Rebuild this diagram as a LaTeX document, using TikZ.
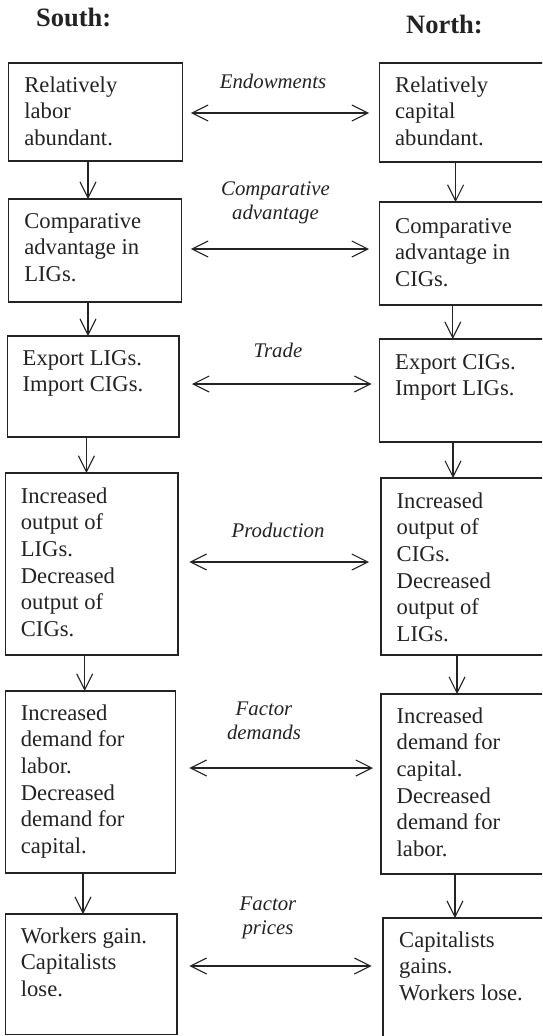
\documentclass[tikz,border=0pt]{standalone}
\usepackage{fontspec}
\setmainfont{Liberation Serif}
\usetikzlibrary{arrows.meta,fit}
\definecolor{ink}{RGB}{35,35,35}
\newcommand{\lft}[1]{\begin{tabular}[t]{@{}l@{}}#1\end{tabular}}
\newcommand{\ctr}[1]{\begin{tabular}[t]{@{}c@{}}#1\end{tabular}}
\tikzset{
  box/.style={draw=ink, line width=1.1pt, inner sep=0pt, outer sep=0pt},
  txt/.style={anchor=base west, inner sep=0pt, text=ink,
    font=\fontsize{22.6}{26.7}\selectfont},
  lab/.style={anchor=base, inner sep=0pt, text=ink,
    font=\fontsize{20.8}{24}\selectfont\itshape},
  ttl/.style={anchor=base west, inner sep=0pt, text=ink,
    font=\fontsize{26.5}{30}\selectfont\bfseries},
  barb/.tip={Straight Barb[length=16pt,width=16pt]},
  varr/.style={draw=ink, line width=1.1pt, -barb},
  harr/.style={draw=ink, line width=1.1pt, barb-barb}
}
\begin{document}
\begin{tikzpicture}[x=1pt,y=-1pt]
\clip (0,0) rectangle (542,1036);
\fill[white] (0,0) rectangle (542,1036);

\node[ttl] (south) at (36,27) {South:};
\node[ttl] (north) at (406,33) {North:};

% boxes
\node[box, fit={(8.6,63) (182.5,161)}] (s1) {};
\node[box, fit={(379.5,63) (548,162)}] (n1) {};
\node[box, fit={(8.6,199) (181.5,302)}] (s2) {};
\node[box, fit={(379.5,202) (548,305)}] (n2) {};
\node[box, fit={(7.6,336) (179,437)}] (s3) {};
\node[box, fit={(379.5,339) (548,442)}] (n3) {};
\node[box, fit={(5.2,473) (178,655)}] (s4) {};
\node[box, fit={(381,478) (548,655)}] (n4) {};
\node[box, fit={(5.2,691) (175.6,873)}] (s5) {};
\node[box, fit={(381,694) (548,874)}] (n5) {};
\node[box, fit={(5.2,914) (177,1034.5)}] (s6) {};
\node[box, fit={(383,918) (548,1045)}] (n6) {};

% box texts
\node[txt] (s1t) at (24.2,92) {\lft{Relatively\\labor\\abundant.}};
\node[txt] (n1t) at (395,92) {\lft{Relatively\\capital\\abundant.}};
\node[txt] (s2t) at (24.2,228) {\lft{Comparative\\advantage in\\LIGs.}};
\node[txt] (n2t) at (395,233) {\lft{Comparative\\advantage in\\CIGs.}};
\node[txt] (s3t) at (22.5,365) {\lft{Export LIGs.\\Import CIGs.}};
\node[txt] (n3t) at (395,369) {\lft{Export CIGs.\\Import LIGs.}};
\node[txt] (s4t) at (20.7,503) {\lft{Increased\\output of\\LIGs.\\Decreased\\output of\\CIGs.}};
\node[txt] (n4t) at (396.5,508) {\lft{Increased\\output of\\CIGs.\\Decreased\\output of\\LIGs.}};
\node[txt] (s5t) at (20.7,720) {\lft{Increased\\demand for\\labor.\\Decreased\\demand for\\capital.}};
\node[txt] (n5t) at (396.5,723) {\lft{Increased\\demand for\\capital.\\Decreased\\demand for\\labor.}};
\node[txt] (s6t) at (20.7,943) {\lft{Workers gain.\\Capitalists\\lose.}};
\node[txt] (n6t) at (399,947) {\lft{Capitalists\\gains.\\Workers lose.}};

% labels
\node[lab] (l1) at (273,88) {Endowments};
\node[lab] (l2) at (275.5,195) {\ctr{Comparative\\advantage}};
\node[lab] (l3) at (278,357) {Trade};
\node[lab] (l4) at (278,537) {Production};
\node[lab] (l5) at (264,715) {\ctr{Factor\\demands}};
\node[lab] (l6) at (268,910) {\ctr{Factor\\prices}};

% vertical arrows
\draw[varr] (s1.south -| 88,0) -- (s2.north -| 88,0);
\draw[varr] (n1.south -| 455.6,0) -- (n2.north -| 455.6,0);
\draw[varr] (s2.south -| 88,0) -- (s3.north -| 88,0);
\draw[varr] (n2.south -| 452.8,0) -- (n3.north -| 452.8,0);
\draw[varr] (s3.south -| 86.4,0) -- (s4.north -| 86.4,0);
\draw[varr] (n3.south -| 453,0) -- (n4.north -| 453,0);
\draw[varr] (s4.south -| 84.7,0) -- (s5.north -| 84.7,0);
\draw[varr] (n4.south -| 457,0) -- (n5.north -| 457,0);
\draw[varr] (s5.south -| 83,0) -- (s6.north -| 83,0);
\draw[varr] (n5.south -| 455,0) -- (n6.north -| 455,0);

% horizontal arrows
\draw[harr] ([xshift=8.3pt]s1.east |- 0,113) -- ([xshift=-10.3pt]n1.west |- 0,113);
\draw[harr] ([xshift=9.3pt]s2.east |- 0,249) -- ([xshift=-10.5pt]n2.west |- 0,249);
\draw[harr] ([xshift=13pt]s3.east |- 0,384) -- ([xshift=-7.9pt]n3.west |- 0,384);
\draw[harr] ([xshift=11.4pt]s4.east |- 0,562) -- ([xshift=-12pt]n4.west |- 0,562);
\draw[harr] ([xshift=13.8pt]s5.east |- 0,768) -- ([xshift=-8pt]n5.west |- 0,768);
\draw[harr] ([xshift=12.4pt]s6.east |- 0,966) -- ([xshift=-11.4pt]n6.west |- 0,966);
\end{tikzpicture}
\end{document}
